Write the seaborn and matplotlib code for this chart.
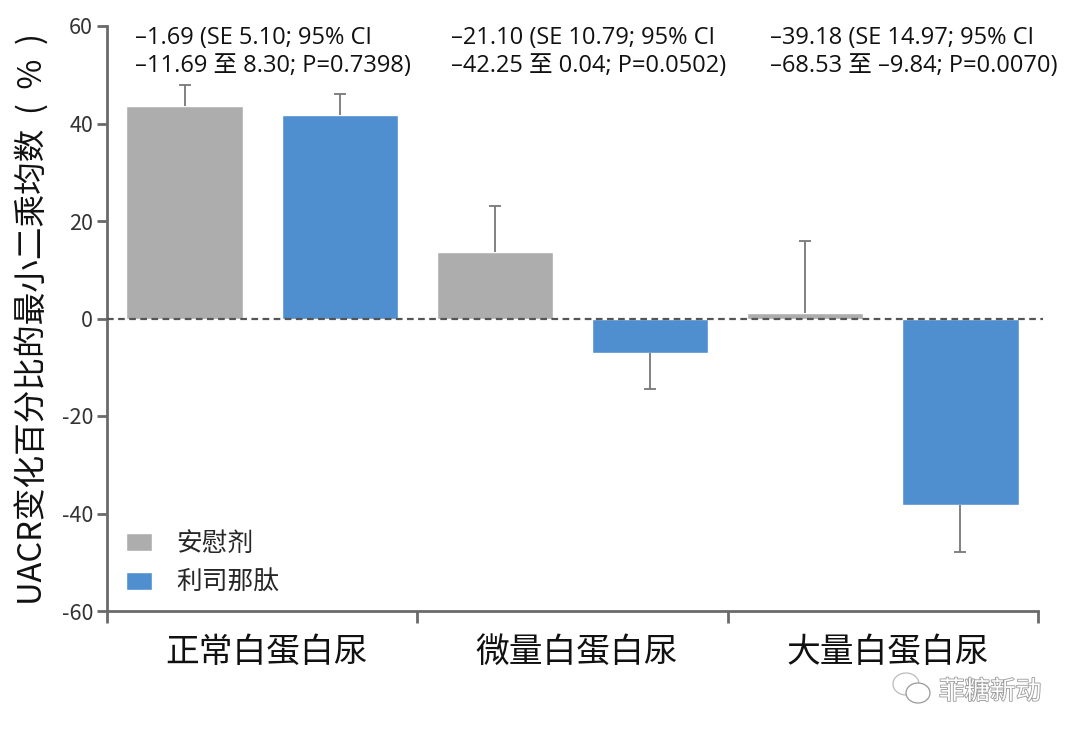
# -*- coding: utf-8 -*-
"""
UACR change by albuminuria group, placebo vs liraglutide.
"""
import matplotlib
matplotlib.use('Agg')
import matplotlib.pyplot as plt
from matplotlib.patches import Ellipse
from matplotlib.transforms import ScaledTranslation
import matplotlib.patheffects as pe
import pandas as pd
import seaborn as sns

# Values.
groups = ['正常白蛋白尿', '微量白蛋白尿', '大量白蛋白尿']
treatments = ['安慰剂', '利司那肽']
placebo_means = [43.5, 13.6, 1.2]
lira_means = [41.7, -7.0, -38.2]
placebo_err_ends = [47.9, 23.0, 15.8]
lira_err_ends = [46.0, -14.4, -47.9]
y_ticks = [-60, -40, -20, 0, 20, 40, 60]
y_label = 'UACR变化百分比的最小二乘均数  (  %  )'
notes_line1 = ['–1.69 (SE 5.10; 95% CI', '–21.10 (SE 10.79; 95% CI', '–39.18 (SE 14.97; 95% CI']
notes_line2 = ['–11.69 至 8.30; P=0.7398)', '–42.25 至 0.04; P=0.0502)', '–68.53 至 –9.84; P=0.0070)']
watermark = '菲糖新动'

sns.set_style('white')
plt.rcParams['font.family'] = ['Noto Sans CJK SC', 'DejaVu Sans']

GREY = '#adadad'
BLUE = '#4f8fcf'
AXIS = '#6a6a6a'

W, H = 1076, 738
fig = plt.figure(figsize=(W / 100, H / 100), dpi=100)
ax = fig.add_axes([107 / W, 1 - 611 / H, (1038 - 107) / W, (611 - 26) / H])

df = pd.DataFrame({
    'group': groups * 2,
    'treatment': [treatments[0]] * 3 + [treatments[1]] * 3,
    'mean': placebo_means + lira_means,
})
sns.barplot(data=df, x='group', y='mean', hue='treatment', order=groups,
            hue_order=treatments, palette=[GREY, BLUE], saturation=1,
            width=1.0, gap=0.25, errorbar=None, ax=ax)

# One sided error bars, taken from the bar centres. Cap only at the far end.
ends = placebo_err_ends + lira_err_ends
for bar, mean, end in zip(ax.patches[:6], df['mean'], ends):
    xc = bar.get_x() + bar.get_width() / 2
    ax.vlines(xc, mean, end, color='#777777', lw=1.3, zorder=1)
    ax.plot([xc], [end], marker='_', ms=9, mew=1.3, color='#777777', zorder=1)

ax.axhline(0, xmin=0, xmax=1.005, color='#555555', lw=1.6, ls=(0, (3, 2)),
           clip_on=False, zorder=5)

ax.set_xlim(-0.5, 2.5)
ax.set_ylim(-60, 60)
ax.set_xlabel('')
ax.set_ylabel('')

ax.set_xticks([-0.5, 0.5, 1.5, 2.5])
ax.set_xticklabels([])
ax.set_xticks([0, 1, 2], minor=True)
ax.set_xticklabels(groups, minor=True, fontsize=24.3, color='#111111')
ax.tick_params(axis='x', which='major', direction='out', bottom=True,
               length=8.5, width=2, color=AXIS)
ax.tick_params(axis='x', which='minor', bottom=False, pad=15.5)
shift = ScaledTranslation(4.5 / 100, 0, fig.dpi_scale_trans)
for lbl in ax.get_xticklabels(minor=True):
    lbl.set_transform(lbl.get_transform() + shift)

ax.set_yticks(y_ticks)
ax.set_yticklabels([str(v) for v in y_ticks], fontsize=15.5, color='#333333')
ax.tick_params(axis='y', direction='out', left=True, length=7, width=2,
               color=AXIS, pad=3)

sns.despine(ax=ax)
for side in ['left', 'bottom']:
    ax.spines[side].set_color(AXIS)
    ax.spines[side].set_linewidth(2)

fig.text(33 / W, 1 - 605 / H, y_label, rotation=90, ha='center', va='bottom',
         fontsize=23.5, color='#111111')

note_font = ['Open Sans', 'Noto Sans CJK SC']
for pos, a, b in zip([-0.41, 0.607, 1.638], notes_line1, notes_line2):
    ax.text(pos, 57.5, a, fontsize=17, family=note_font, color='#111111',
            va='center', ha='left')
    ax.text(pos, 51.8, b, fontsize=17, family=note_font, color='#111111',
            va='center', ha='left')

handles, labels = ax.get_legend_handles_labels()
ax.legend(handles, labels, loc='lower left', bbox_to_anchor=(19 / 931, 15 / 585),
          borderaxespad=0, borderpad=0, frameon=False, fontsize=18.5,
          handlelength=1.01, handleheight=0.7, handletextpad=0.93,
          labelspacing=0.5)

# WeChat style mark and watermark in the bottom right corner.
fig.add_artist(Ellipse((906 / W, 1 - 684 / H), 26 / W, 22 / H, fc='white',
                       ec='#bbbbbb', lw=0.9, transform=fig.transFigure))
fig.add_artist(Ellipse((918 / W, 1 - 693 / H), 24 / W, 20 / H, fc='white',
                       ec='#999999', lw=0.9, transform=fig.transFigure))
txt = fig.text(939 / W, 1 - 692 / H, watermark, fontsize=18.4, color='white',
               ha='left', va='center')
txt.set_path_effects([pe.withStroke(linewidth=1.2, foreground='#999999')])

plt.savefig('out.png', dpi=100)
